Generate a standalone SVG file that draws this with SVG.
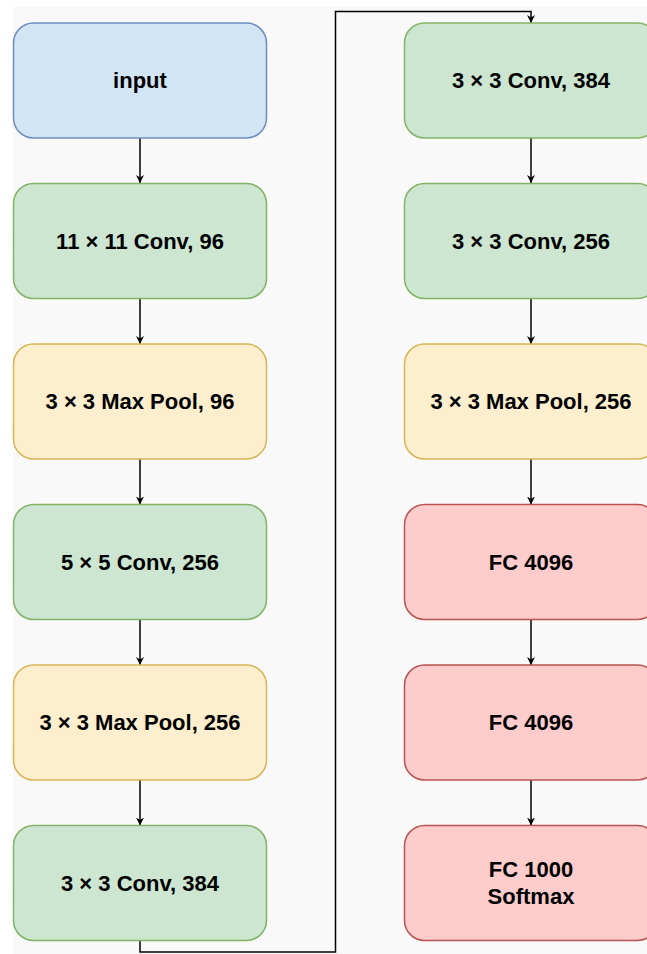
<svg xmlns="http://www.w3.org/2000/svg" width="647" height="954" viewBox="0 0 647 954">
  <defs>
    <style>
      .node rect { stroke-width: 1.5; }
      .blue rect { fill: #d2e5f5; stroke: #6c8ebf; }
      .green rect { fill: #cce6d1; stroke: #82b366; }
      .yellow rect { fill: #fdefce; stroke: #d6b656; }
      .red rect { fill: #fdcccb; stroke: #b85450; }
      .node text { font-family: "Liberation Sans", Arial, Helvetica, sans-serif; font-weight: bold; font-size: 22px; fill: #000; text-anchor: middle; }
      .edge { fill: none; stroke: #000; stroke-width: 1.5; }
    </style>
    <marker id="arrow" viewBox="0 0 10 10" refX="10" refY="5" markerWidth="8" markerHeight="8" markerUnits="userSpaceOnUse" orient="auto">
      <path d="M0,0 L10,5 L0,10 L3,5 Z" fill="#000"/>
    </marker>
  </defs>

  <!-- page background -->
  <rect x="0" y="0" width="647" height="954" fill="#ffffff"/>
  <rect x="13" y="7" width="634" height="947" fill="#f9f9f9"/>

  <!-- connectors -->
  <g id="connectors">
    <path class="edge" d="M140,138 V183" marker-end="url(#arrow)"/>
    <path class="edge" d="M140,298.5 V344" marker-end="url(#arrow)"/>
    <path class="edge" d="M140,459 V504.5" marker-end="url(#arrow)"/>
    <path class="edge" d="M140,619.5 V665" marker-end="url(#arrow)"/>
    <path class="edge" d="M140,780 V825.5" marker-end="url(#arrow)"/>
    <path class="edge" d="M140,940.5 V952 H335.5 V11.5 H531 V23" marker-end="url(#arrow)"/>
    <path class="edge" d="M531,138 V183" marker-end="url(#arrow)"/>
    <path class="edge" d="M531,298.5 V344" marker-end="url(#arrow)"/>
    <path class="edge" d="M531,459 V504.5" marker-end="url(#arrow)"/>
    <path class="edge" d="M531,619.5 V665" marker-end="url(#arrow)"/>
    <path class="edge" d="M531,780 V825.5" marker-end="url(#arrow)"/>
  </g>

  <!-- left column -->
  <g id="input" class="node blue">
    <rect x="13.5" y="23" width="253" height="115" rx="20"/>
    <text x="140" y="88">input</text>
  </g>
  <g id="conv11" class="node green">
    <rect x="13.5" y="183.5" width="253" height="115" rx="20"/>
    <text x="140" y="248.5">11 × 11 Conv, 96</text>
  </g>
  <g id="pool1" class="node yellow">
    <rect x="13.5" y="344" width="253" height="115" rx="20"/>
    <text x="140" y="409">3 × 3 Max Pool, 96</text>
  </g>
  <g id="conv5" class="node green">
    <rect x="13.5" y="504.5" width="253" height="115" rx="20"/>
    <text x="140" y="569.5">5 × 5 Conv, 256</text>
  </g>
  <g id="pool2" class="node yellow">
    <rect x="13.5" y="665" width="253" height="115" rx="20"/>
    <text x="140" y="730">3 × 3 Max Pool, 256</text>
  </g>
  <g id="conv3a" class="node green">
    <rect x="13.5" y="825.5" width="253" height="115" rx="20"/>
    <text x="140" y="890.5">3 × 3 Conv, 384</text>
  </g>

  <!-- right column -->
  <g id="conv3b" class="node green">
    <rect x="404.5" y="23" width="253" height="115" rx="20"/>
    <text x="531" y="88">3 × 3 Conv, 384</text>
  </g>
  <g id="conv3c" class="node green">
    <rect x="404.5" y="183.5" width="253" height="115" rx="20"/>
    <text x="531" y="248.5">3 × 3 Conv, 256</text>
  </g>
  <g id="pool3" class="node yellow">
    <rect x="404.5" y="344" width="253" height="115" rx="20"/>
    <text x="531" y="409">3 × 3 Max Pool, 256</text>
  </g>
  <g id="fc1" class="node red">
    <rect x="404.5" y="504.5" width="253" height="115" rx="20"/>
    <text x="531" y="569.5">FC 4096</text>
  </g>
  <g id="fc2" class="node red">
    <rect x="404.5" y="665" width="253" height="115" rx="20"/>
    <text x="531" y="730">FC 4096</text>
  </g>
  <g id="fc3" class="node red">
    <rect x="404.5" y="825.5" width="253" height="115" rx="20"/>
    <text x="531" y="877">FC 1000</text>
    <text x="531" y="904">Softmax</text>
  </g>
</svg>
